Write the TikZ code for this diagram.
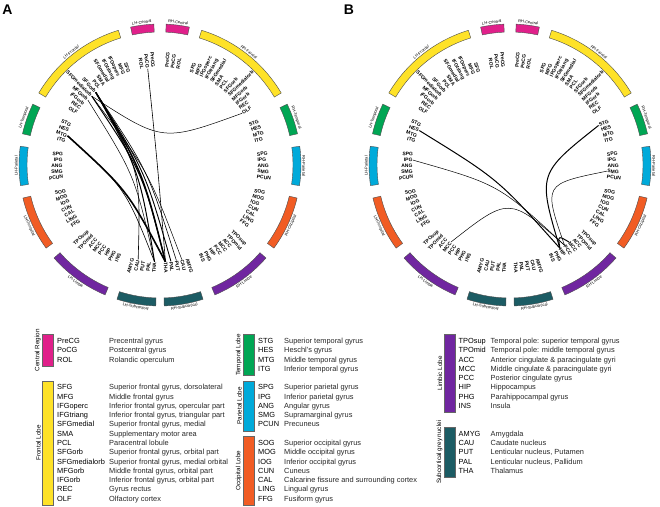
\documentclass[tikz,border=0pt]{standalone}
\usepackage{fontspec}
\setmainfont{Liberation Sans}
\usetikzlibrary{calc}

\definecolor{central}{RGB}{224,32,138}
\definecolor{frontal}{RGB}{254,226,40}
\definecolor{temporal}{RGB}{0,166,84}
\definecolor{parietal}{RGB}{0,170,218}
\definecolor{occipital}{RGB}{241,92,36}
\definecolor{limbic}{RGB}{112,38,160}
\definecolor{subcort}{RGB}{28,92,100}

\tikzset{
  roi/.style={font=\fontsize{5}{5}\selectfont\bfseries, inner sep=0.4pt},
  lobe/.style={draw=black!70, line width=0.4pt},
  lobename/.style={font=\fontsize{4}{4}\selectfont, inner sep=0.6pt},
  panel/.style={font=\fontsize{14}{14}\selectfont\bfseries, inner sep=0pt},
  linkweak/.style={line width=0.5pt},
  linkmid/.style={line width=1pt},
  linkstrong/.style={line width=1.6pt},
  legbar/.style={draw=black!60, line width=0.4pt},
  legtitle/.style={font=\fontsize{6.3}{6.3}\selectfont, rotate=90, inner sep=0pt, anchor=south},
  legkey/.style={font=\fontsize{7.4}{7.4}\selectfont, anchor=base west, inner sep=0pt},
  legtext/.style={font=\fontsize{7.4}{7.4}\selectfont, anchor=base west, inner sep=0pt, text=black!85},
}

\begin{document}
\begin{tikzpicture}[x=1pt, y=1pt]
  \useasboundingbox (0,0) rectangle (660,506);
  \coordinate (cA) at (160,341);
  \coordinate (cB) at (510,341);
  \node[panel] (labA) at (7.5,496) {A};
  \node[panel] (labB) at (349,496.5) {B};

  % region labels and lobe bands of both circles
  \foreach \p/\cx in {A/160,B/510}{
    \begin{scope}[shift={(\cx,341)}]
      \foreach \n/\u in {PreCG/0,PoCG/1,ROL/2,SFG/4.5,MFG/5.5,IFGoperc/6.5,IFGtriang/7.5,SFGmedial/8.5,SMA/9.5,PCL/10.5,SFGorb/11.5,SFGmedialorb/12.5,MFGorb/13.5,IFGorb/14.5,REC/15.5,OLF/16.5,STG/19,HES/20,MTG/21,ITG/22,SPG/24.5,IPG/25.5,ANG/26.5,SMG/27.5,PCUN/28.5,SOG/31,MOG/32,IOG/33,CUN/34,CAL/35,LING/36,FFG/37,TPOsup/39.5,TPOmid/40.5,ACC/41.5,MCC/42.5,PCC/43.5,HIP/44.5,PHG/45.5,INS/46.5,AMYG/49,CAU/50,PUT/51,PAL/52,THA/53}{
        \pgfmathsetmacro\ar{86-3.26*\u}
        \pgfmathsetmacro\al{94+3.26*\u}
        \pgfmathsetmacro\rl{\al-180}
        \node[roi, anchor=west, rotate=\ar] (\p-R-\n) at (\ar:97) {\n};
        \node[roi, anchor=east, rotate=\rl] (\p-L-\n) at (\al:97) {\n};
      }
      \foreach \grp/\col/\ua/\ub/\up in {Central/central/0/2/1,Frontal/frontal/4.5/16.5/1,Temporal/temporal/19/22/1,Parietal/parietal/24.5/28.5/1,Occipital/occipital/31/37/0,Limbic/limbic/39.5/46.5/0,Subcortical/subcort/49/53/0}{
        \pgfmathsetmacro\ta{86-3.26*\ua+1.5}
        \pgfmathsetmacro\tb{86-3.26*\ub-1.5}
        \pgfmathsetmacro\tm{(\ta+\tb)/2}
        \pgfmathsetmacro\sa{180-\ta}
        \pgfmathsetmacro\sb{180-\tb}
        \pgfmathsetmacro\sm{180-\tm}
        \draw[lobe, fill=\col] (\ta:133) arc[start angle=\ta, end angle=\tb, radius=133pt] -- (\tb:141) arc[start angle=\tb, end angle=\ta, radius=141pt] -- cycle;
        \draw[lobe, fill=\col] (\sa:133) arc[start angle=\sa, end angle=\sb, radius=133pt] -- (\sb:141) arc[start angle=\sb, end angle=\sa, radius=141pt] -- cycle;
        \ifnum\up=1
          \pgfmathsetmacro\rr{\tm-90}
          \pgfmathsetmacro\rs{\sm-90}
          \node[lobename, anchor=south, rotate=\rr] (\p-RH-\grp) at (\tm:141.5) {RH-\grp};
          \node[lobename, anchor=south, rotate=\rs] (\p-LH-\grp) at (\sm:141.5) {LH-\grp};
        \else
          \pgfmathsetmacro\rr{\tm+90}
          \pgfmathsetmacro\rs{\sm+90}
          \node[lobename, anchor=north, rotate=\rr] (\p-RH-\grp) at (\tm:141.5) {RH-\grp};
          \node[lobename, anchor=north, rotate=\rs] (\p-LH-\grp) at (\sm:141.5) {LH-\grp};
        \fi
      }
    \end{scope}
  }

  % connections A
  \draw[line width=0.6pt] (A-L-PoCG.east) .. controls ($(A-L-PoCG.east)!0.5!(A-R-THA.west)!0.3!(cA)$) .. (A-R-THA.west);
  \draw[linkweak] (A-L-SFGmedialorb.east) .. controls ($(A-L-SFGmedialorb.east)!0.5!(A-R-OLF.west)!0.62!(cA)$) .. (A-R-OLF.west);
  \draw[linkstrong] (A-L-MTG.east) .. controls ($(A-L-MTG.east)!0.5!(A-R-THA.west)!0.25!(cA)$) .. (A-R-THA.west);
  \draw[line width=0.6pt] (A-L-MTG.east) .. controls ($(A-L-MTG.east)!0.5!(A-L-THA.east)!0.3!(cA)$) .. (A-L-THA.east);
  \draw[line width=1.5pt] (A-L-SFGorb.east) .. controls ($(A-L-SFGorb.east)!0.5!(A-R-THA.west)!0.42!(cA)$) .. (A-R-THA.west);
  \draw[linkmid] (A-L-SFGorb.east) .. controls ($(A-L-SFGorb.east)!0.5!(A-L-THA.east)!0.42!(cA)$) .. (A-L-THA.east);
  \draw[linkmid] (A-L-SFGmedialorb.east) .. controls ($(A-L-SFGmedialorb.east)!0.5!(A-R-THA.west)!0.45!(cA)$) .. (A-R-THA.west);
  \draw[line width=0.9pt] (A-L-SFGorb.east) .. controls ($(A-L-SFGorb.east)!0.5!(A-R-PAL.west)!0.45!(cA)$) .. (A-R-PAL.west);
  \draw[line width=0.6pt] (A-L-SFGorb.east) .. controls ($(A-L-SFGorb.east)!0.5!(A-R-PUT.west)!0.5!(cA)$) .. (A-R-PUT.west);
  \draw[linkweak] (A-L-SFGmedialorb.east) .. controls ($(A-L-SFGmedialorb.east)!0.5!(A-R-CAU.west)!0.5!(cA)$) .. (A-R-CAU.west);
  \draw[line width=0.6pt] (A-L-SFGorb.east) .. controls ($(A-L-SFGorb.east)!0.5!(A-L-CAU.east)!0.55!(cA)$) .. (A-L-CAU.east);
  \draw[linkweak] (A-L-MFGorb.east) .. controls ($(A-L-MFGorb.east)!0.5!(A-L-THA.east)!0.35!(cA)$) .. (A-L-THA.east);

  % connections B
  \draw[linkmid] (B-L-HES.east) .. controls ($(B-L-HES.east)!0.5!(B-R-HIP.west)!0.42!(cB)$) .. (B-R-HIP.west);
  \draw[linkweak] (B-L-IPG.east) .. controls ($(B-L-IPG.east)!0.5!(B-R-PCC.west)!0.48!(cB)$) .. (B-R-PCC.west);
  \draw[linkweak] (B-L-MCC.east) .. controls ($(B-L-MCC.east)!0.5!(B-R-PCC.west)!0.6!(cB)$) .. (B-R-PCC.west);
  \draw[linkmid] (B-R-STG.west) .. controls ($(B-R-STG.west)!0.5!(B-R-HIP.west)!0.6!(cB)$) .. (B-R-HIP.west);
  \draw[linkweak] (B-R-SMG.west) .. controls ($(B-R-SMG.west)!0.5!(B-R-PCC.west)!0.56!(cB)$) .. (B-R-PCC.west);
  \draw[linkmid] (B-R-HIP.west) .. controls ($(B-R-HIP.west)!0.5!(B-R-MCC.west)!0.12!(cB)$) .. (B-R-MCC.west);

  % legend bars
  \foreach \grp/\col/\bx/\ra/\rb/\nm in {Central Region/central/42.5/0/2/cen,Frontal Lobe/frontal/42.5/5/17/fro,Temporal Lobe/temporal/243.5/0/3/tem,Parietal Lobe/parietal/243.5/5/9/par,Occipital Lobe/occipital/243.5/11/17/occ,Limbic Lobe/limbic/444/0/7/lim,Subcortical grey nuclei/subcort/444/10/14/sub}{
    \pgfmathsetmacro\ytop{165-9.27*\ra+6.5}
    \pgfmathsetmacro\ybot{165-9.27*\rb-6.5}
    \draw[legbar, fill=\col] (\bx,\ytop) rectangle ({\bx+11},\ybot);
    \node[legtitle] (title-\nm) at ({\bx-1.5},{(\ytop+\ybot)/2}) {\grp};
  }

  % legend entries
  \foreach \n/\d [count=\i from 0] in {PreCG/Precentral gyrus,PoCG/Postcentral gyrus,ROL/Rolandic operculum}{
    \node[legkey] (key-\n) at (57,{162.5-9.27*\i}) {\n};
    \node[legtext] (txt-\n) at (109,{162.5-9.27*\i}) {\d};
  }
  \foreach \n/\d [count=\i from 5] in {SFG/{Superior frontal gyrus, dorsolateral},MFG/Middle frontal gyrus,IFGoperc/{Inferior frontal gyrus, opercular part},IFGtriang/{Inferior frontal gyrus, triangular part},SFGmedial/{Superior frontal gyrus, medial},SMA/Supplementary motor area,PCL/Paracentral lobule,SFGorb/{Superior frontal gyrus, orbital part},SFGmedialorb/{Superior frontal gyrus, medial orbital},MFGorb/{Middle frontal gyrus, orbital part},IFGorb/{Inferior frontal gyrus, orbital part},REC/Gyrus rectus,OLF/Olfactory cortex}{
    \node[legkey] (key-\n) at (57,{162.5-9.27*\i}) {\n};
    \node[legtext] (txt-\n) at (109,{162.5-9.27*\i}) {\d};
  }
  \foreach \n/\d [count=\i from 0] in {STG/Superior temporal gyrus,HES/Heschl's gyrus,MTG/Middle temporal gyrus,ITG/Inferior temporal gyrus}{
    \node[legkey] (key-\n) at (258,{162.5-9.27*\i}) {\n};
    \node[legtext] (txt-\n) at (284,{162.5-9.27*\i}) {\d};
  }
  \foreach \n/\d [count=\i from 5] in {SPG/Superior parietal gyrus,IPG/Inferior parietal gyrus,ANG/Angular gyrus,SMG/Supramarginal gyrus,PCUN/Precuneus}{
    \node[legkey] (key-\n) at (258,{162.5-9.27*\i}) {\n};
    \node[legtext] (txt-\n) at (284,{162.5-9.27*\i}) {\d};
  }
  \foreach \n/\d [count=\i from 11] in {SOG/Superior occipital gyrus,MOG/Middle occipital gyrus,IOG/Inferior occipital gyrus,CUN/Cuneus,CAL/Calcarine fissure and surrounding cortex,LING/Lingual gyrus,FFG/Fusiform gyrus}{
    \node[legkey] (key-\n) at (258,{162.5-9.27*\i}) {\n};
    \node[legtext] (txt-\n) at (284,{162.5-9.27*\i}) {\d};
  }
  \foreach \n/\d [count=\i from 0] in {TPOsup/Temporal pole: superior temporal gyrus,TPOmid/Temporal pole: middle temporal gyrus,ACC/Anterior cingulate \& paracingulate gyri,MCC/Middle cingulate \& paracingulate gyri,PCC/Posterior cingulate gyrus,HIP/Hippocampus,PHG/Parahippocampal gyrus,INS/Insula}{
    \node[legkey] (key-\n) at (458.5,{162.5-9.27*\i}) {\n};
    \node[legtext] (txt-\n) at (490.5,{162.5-9.27*\i}) {\d};
  }
  \foreach \n/\d [count=\i from 10] in {AMYG/Amygdala,CAU/Caudate nucleus,PUT/{Lenticular nucleus, Putamen},PAL/{Lenticular nucleus, Pallidum},THA/Thalamus}{
    \node[legkey] (key-\n) at (458.5,{162.5-9.27*\i}) {\n};
    \node[legtext] (txt-\n) at (490.5,{162.5-9.27*\i}) {\d};
  }
\end{tikzpicture}
\end{document}
